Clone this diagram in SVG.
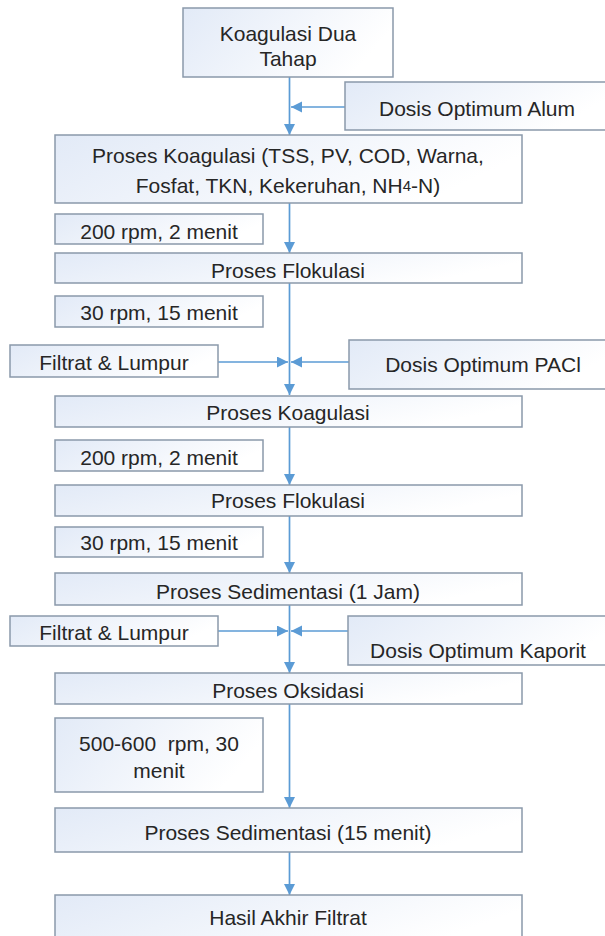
<svg xmlns="http://www.w3.org/2000/svg" width="605" height="936" viewBox="0 0 605 936">
<defs>
<linearGradient id="g" x1="0" y1="0" x2="1" y2="0.3">
<stop offset="0" stop-color="#e2eaf7"/>
<stop offset="1" stop-color="#ffffff"/>
</linearGradient>
<marker id="ah" markerUnits="userSpaceOnUse" markerWidth="12" markerHeight="12" refX="11" refY="5.5" orient="auto">
<path d="M0,0 L11,5.5 L0,11 z" fill="#5b9bd5"/>
</marker>
<style>
.b{fill:url(#g);stroke:#8a99aa;stroke-width:1.5}
.t{font-family:"Liberation Sans",Arial,sans-serif;font-size:21px;fill:#262626;text-anchor:middle;dominant-baseline:central}
.c{stroke:#5b9bd5;stroke-width:1.7;fill:none}
.a{marker-end:url(#ah)}
</style>
</defs>
<rect width="605" height="936" fill="#ffffff"/>
<g id="connectors">
<line class="c a" x1="289.5" y1="77" x2="289.5" y2="135"/>
<line class="c a" x1="345" y1="107" x2="291" y2="107"/>
<line class="c a" x1="289.5" y1="203" x2="289.5" y2="253"/>
<line class="c a" x1="289.5" y1="283" x2="289.5" y2="395"/>
<line class="c a" x1="218" y1="362" x2="288" y2="362"/>
<line class="c a" x1="349" y1="362" x2="291" y2="362"/>
<line class="c a" x1="289.5" y1="427" x2="289.5" y2="485"/>
<line class="c a" x1="289.5" y1="516" x2="289.5" y2="573"/>
<line class="c a" x1="289.5" y1="605" x2="289.5" y2="673"/>
<line class="c a" x1="218" y1="631" x2="288" y2="631"/>
<line class="c a" x1="348" y1="631" x2="291" y2="631"/>
<line class="c a" x1="289.5" y1="704" x2="289.5" y2="808"/>
<line class="c a" x1="289.5" y1="852" x2="289.5" y2="895"/>
</g>
<g id="n1"><rect class="b" x="183" y="8" width="210" height="69"/><text class="t" x="288" y="33">Koagulasi Dua</text><text class="t" x="288" y="58">Tahap</text></g>
<g id="n2"><rect class="b" x="345" y="82" width="265" height="48"/><text class="t" x="477" y="108">Dosis Optimum Alum</text></g>
<g id="n3"><rect class="b" x="55" y="135" width="467" height="68"/><text class="t" x="288" y="155">Proses Koagulasi (TSS, PV, COD, Warna,</text><text class="t" x="288" y="185">Fosfat, TKN, Kekeruhan, NH<tspan font-size="15">4</tspan>-N)</text></g>
<g id="n4"><rect class="b" x="55" y="214" width="208" height="30"/><text class="t" x="159" y="231">200 rpm, 2 menit</text></g>
<g id="n5"><rect class="b" x="55" y="253" width="467" height="30"/><text class="t" x="288" y="270">Proses Flokulasi</text></g>
<g id="n6"><rect class="b" x="55" y="296" width="208" height="31"/><text class="t" x="159" y="312">30 rpm, 15 menit</text></g>
<g id="n7"><rect class="b" x="10" y="345" width="208" height="32"/><text class="t" x="114" y="362">Filtrat &amp; Lumpur</text></g>
<g id="n8"><rect class="b" x="349" y="340" width="261" height="49"/><text class="t" x="483" y="364">Dosis Optimum PACl</text></g>
<g id="n9"><rect class="b" x="55" y="396" width="467" height="31"/><text class="t" x="288" y="412">Proses Koagulasi</text></g>
<g id="n10"><rect class="b" x="55" y="440" width="208" height="31"/><text class="t" x="159" y="457">200 rpm, 2 menit</text></g>
<g id="n11"><rect class="b" x="55" y="485" width="467" height="31"/><text class="t" x="288" y="500">Proses Flokulasi</text></g>
<g id="n12"><rect class="b" x="55" y="527" width="208" height="30"/><text class="t" x="159" y="542">30 rpm, 15 menit</text></g>
<g id="n13"><rect class="b" x="55" y="573" width="467" height="32"/><text class="t" x="288" y="591">Proses Sedimentasi (1 Jam)</text></g>
<g id="n14"><rect class="b" x="10" y="616" width="208" height="30"/><text class="t" x="114" y="632">Filtrat &amp; Lumpur</text></g>
<g id="n15"><rect class="b" x="348" y="616" width="262" height="49"/><text class="t" x="478" y="650">Dosis Optimum Kaporit</text></g>
<g id="n16"><rect class="b" x="55" y="673" width="467" height="31"/><text class="t" x="288" y="690">Proses Oksidasi</text></g>
<g id="n17"><rect class="b" x="55" y="718" width="208" height="74"/><text class="t" x="159" y="743" style="white-space:pre">500-600  rpm, 30</text><text class="t" x="159" y="770">menit</text></g>
<g id="n18"><rect class="b" x="55" y="808" width="467" height="44"/><text class="t" x="288" y="832">Proses Sedimentasi (15 menit)</text></g>
<g id="n19"><rect class="b" x="55" y="895" width="467" height="50"/><text class="t" x="288" y="917">Hasil Akhir Filtrat</text></g>
</svg>
